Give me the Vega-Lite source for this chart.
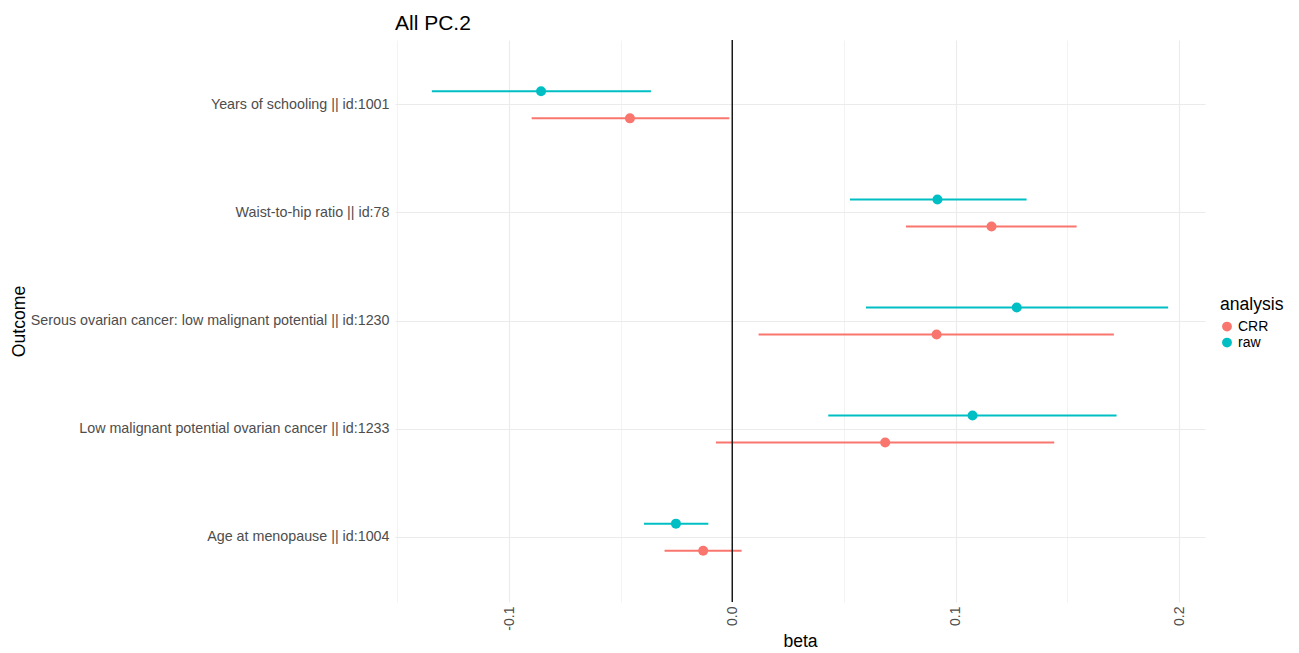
{
  "$schema": "https://vega.github.io/schema/vega-lite/v6.json",
  "width": 810,
  "height": 562,
  "autosize": {"type": "none"},
  "padding": {"left": 395, "top": 40, "right": 94, "bottom": 51},
  "background": "white",
  "title": {"text": "All PC.2", "anchor": "start", "frame": "group", "fontSize": 21, "fontWeight": "normal", "color": "black", "offset": 6},
  "config": {
    "font": "Liberation Sans",
    "view": {"stroke": null},
    "axis": {"labelColor": "#4D4D4D", "titleColor": "black", "domain": false, "ticks": false, "tickSize": 0, "gridColor": "#EBEBEB", "labelFontSize": 14, "titleFontSize": 17.6, "titleFontWeight": "normal"}
  },
  "data": {
    "values": [
      {"outcome": "Years of schooling || id:1001", "analysis": "raw", "beta": -0.0857, "lo": -0.1346, "hi": -0.0365},
      {"outcome": "Years of schooling || id:1001", "analysis": "CRR", "beta": -0.0459, "lo": -0.0899, "hi": -0.0014},
      {"outcome": "Waist-to-hip ratio || id:78", "analysis": "raw", "beta": 0.0918, "lo": 0.0526, "hi": 0.1317},
      {"outcome": "Waist-to-hip ratio || id:78", "analysis": "CRR", "beta": 0.1160, "lo": 0.0777, "hi": 0.1541},
      {"outcome": "Serous ovarian cancer: low malignant potential || id:1230", "analysis": "raw", "beta": 0.1273, "lo": 0.0598, "hi": 0.1951},
      {"outcome": "Serous ovarian cancer: low malignant potential || id:1230", "analysis": "CRR", "beta": 0.0914, "lo": 0.0117, "hi": 0.1708},
      {"outcome": "Low malignant potential ovarian cancer || id:1233", "analysis": "raw", "beta": 0.1075, "lo": 0.0429, "hi": 0.1720},
      {"outcome": "Low malignant potential ovarian cancer || id:1233", "analysis": "CRR", "beta": 0.0684, "lo": -0.0074, "hi": 0.1441},
      {"outcome": "Age at menopause || id:1004", "analysis": "raw", "beta": -0.0253, "lo": -0.0396, "hi": -0.0108},
      {"outcome": "Age at menopause || id:1004", "analysis": "CRR", "beta": -0.0131, "lo": -0.0304, "hi": 0.0041}
    ]
  },
  "encoding": {
    "y": {
      "field": "outcome", "type": "nominal",
      "sort": ["Years of schooling || id:1001", "Waist-to-hip ratio || id:78", "Serous ovarian cancer: low malignant potential || id:1230", "Low malignant potential ovarian cancer || id:1233", "Age at menopause || id:1004"],
      "scale": {"paddingInner": 0, "paddingOuter": 0.1},
      "axis": {"title": "Outcome", "grid": true, "labelFontSize": 14.3, "labelPadding": 6, "titleX": -376, "titleBaseline": "middle", "bandPosition": 0.5, "gridWidth": 1.1, "labelLimit": 500}
    },
    "yOffset": {"field": "analysis", "type": "nominal", "sort": ["raw", "CRR"], "scale": {"paddingInner": 0, "paddingOuter": 1}},
    "color": {
      "field": "analysis", "type": "nominal",
      "scale": {"domain": ["CRR", "raw"], "range": ["#F8766D", "#00BFC4"]},
      "legend": {"orient": "none", "legendX": 825, "legendY": 256, "title": "analysis", "titleFontSize": 17.6, "titleFontWeight": "normal", "titleColor": "black", "labelFontSize": 14, "labelColor": "black", "symbolType": "circle", "symbolSize": 70, "rowPadding": 0, "symbolOpacity": 1, "titlePadding": 6}
    }
  },
  "layer": [
    {
      "mark": {"type": "rule", "strokeWidth": 2},
      "encoding": {
        "x": {"field": "lo", "type": "quantitative", "scale": {"domain": [-0.1511, 0.2116], "nice": false, "zero": false},
          "axis": {"title": "beta", "values": [-0.15, -0.1, -0.05, 0, 0.05, 0.1, 0.15, 0.2], "labelAngle": -90, "labelPadding": 4, "titlePadding": 2,
            "labelExpr": "abs(round(datum.value*20)) % 2 == 1 ? '' : replace(format(datum.value, '.1f'), '\u2212', '-')",
            "gridWidth": {"condition": {"test": "abs(round(datum.value*20)) % 2 == 1", "value": 0.6}, "value": 1.1}}},
        "x2": {"field": "hi"}
      }
    },
    {
      "mark": {"type": "circle", "size": 100, "opacity": 1},
      "encoding": {"x": {"field": "beta", "type": "quantitative"}}
    },
    {
      "mark": {"type": "rule", "color": "#1a1a1a", "strokeWidth": 1},
      "encoding": {"x": {"datum": 0}, "y": null, "yOffset": null, "color": null}
    }
  ]
}
